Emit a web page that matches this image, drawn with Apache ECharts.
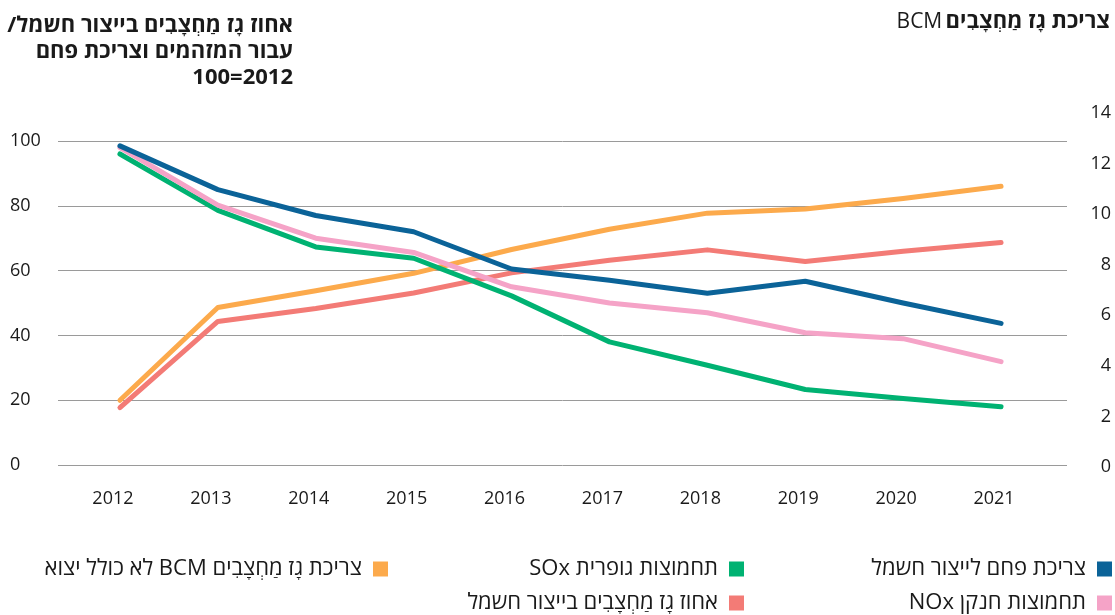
<!DOCTYPE html>
<html><head><meta charset="utf-8">
<script src="https://cdn.jsdelivr.net/npm/echarts@6/dist/echarts.min.js"></script>
<style>html,body{margin:0;padding:0;background:#fff}#c{width:1115px;height:615px}</style>
</head><body><div id="c" dir="rtl"></div>
<script>
const years = ['2012','2013','2014','2015','2016','2017','2018','2019','2020','2021'];
const coalForPower = [98.5, 85, 77, 72, 60.5, 57, 53, 56.7, 50, 43.7];
const noxEmissions = [98, 80.2, 70, 65.6, 55, 50, 47, 40.8, 39, 31.9];
const soxEmissions = [96, 78.6, 67.3, 63.8, 52.2, 38, 30.8, 23.3, 20.5, 18];
const gasSharePower = [17.7, 44.3, 48.3, 53.1, 59.3, 63.2, 66.4, 62.8, 66, 68.7];
const gasConsumptionBCM = [2.64, 6.31, 6.97, 7.66, 8.6, 9.4, 10.04, 10.2, 10.62, 11.1];

const names = {
  coal: 'צריכת פחם לייצור חשמל',
  nox: 'תחמוצות חנקן NOx',
  sox: 'תחמוצות גופרית SOx',
  share: 'אחוז גָז מַחְצָבִים בייצור חשמל',
  bcm: 'צריכת גָז מַחְצָבִים BCM לא כולל יצוא'
};
const colors = {coal:'#0b6398', nox:'#f5a3c7', sox:'#00b272', share:'#f37b76', bcm:'#fcaa4c'};
const FONT = '"Open Sans", "DejaVu Sans", "Liberation Sans", sans-serif';
const TXT = '#1a1a1a';

const chart = echarts.init(document.getElementById('c'), null, {renderer:'canvas'});

function line(key, data, idx) {
  return {
    name: names[key], type: 'line', data: data,
    xAxisIndex: idx, yAxisIndex: idx,
    symbol: 'none', smooth: false,
    lineStyle: {color: colors[key], width: 5, cap: 'round', join: 'round'},
    itemStyle: {color: colors[key]},
    emphasis: {disabled: true}
  };
}
const legendBase = {
  orient: 'vertical', align: 'right', icon: 'rect',
  itemWidth: 15, itemHeight: 15, itemGap: 12,
  top: 558, padding: 0, selectedMode: false,
  textStyle: {fontSize: 22, lineHeight: 22, color: TXT, fontFamily: FONT, padding: [0, 6, 0, 0]}
};

chart.setOption({
  animation: false,
  textStyle: {fontFamily: FONT},
  grid: [
    {left: 58, right: 48, top: 141, bottom: 150},
    {left: 71, right: 65, top: 141, bottom: 150},
    {left: 71, right: 65, top: 113, bottom: 148}
  ],
  xAxis: [
    {gridIndex: 0, type: 'category', data: years, show: false},
    {gridIndex: 1, type: 'category', data: years,
      axisLine: {show: false}, axisTick: {show: false},
      axisLabel: {fontSize: 18, color: TXT, margin: 25, fontFamily: FONT, padding: [0, 14, 0, 0]}},
    {gridIndex: 2, type: 'category', data: years, show: false}
  ],
  yAxis: [
    {gridIndex: 0, type: 'value', min: 0, max: 100, interval: 20,
      axisLine: {show: false}, axisTick: {show: false},
      axisLabel: {fontSize: 18, color: TXT, align: 'left', margin: 48, fontFamily: FONT},
      splitLine: {lineStyle: {color: '#9a9a9a', width: 1}}},
    {gridIndex: 1, type: 'value', min: 0, max: 100, show: false},
    {gridIndex: 2, type: 'value', min: 0, max: 14, interval: 2, position: 'right',
      axisLine: {show: false}, axisTick: {show: false}, splitLine: {show: false},
      axisLabel: {fontSize: 18, color: TXT, align: 'right', margin: 61, fontFamily: FONT}}
  ],
  legend: [
    Object.assign({}, legendBase, {right: 3, data: [names.coal, names.nox]}),
    Object.assign({}, legendBase, {right: 371, data: [names.sox, names.share]}),
    Object.assign({}, legendBase, {right: 727, data: [names.bcm]})
  ],
  graphic: [
    {type: 'text', x: 293, y: 13, silent: true,
      style: {text: 'אחוז גָז מַחְצָבִים בייצור חשמל/\nעבור המזהמים וצריכת פחם\n2012=100',
        align: 'right', textAlign: 'right', verticalAlign: 'top', textVerticalAlign: 'top',
        font: 'bold 22px ' + FONT, lineHeight: 26, fill: TXT}},
    {type: 'text', x: 1110, y: 11, silent: true,
      style: {text: '{r|BCM} {b|צריכת גָז מַחְצָבִים}',
        align: 'right', textAlign: 'right', verticalAlign: 'top', textVerticalAlign: 'top',
        fill: TXT,
        rich: {r: {fontSize: 21, fontFamily: FONT, fill: TXT, color: TXT},
               b: {fontSize: 22, fontWeight: 'bold', fontFamily: FONT, fill: TXT, color: TXT}}}}
  ],
  series: [
    line('bcm', gasConsumptionBCM, 2),
    line('share', gasSharePower, 1),
    line('sox', soxEmissions, 1),
    line('nox', noxEmissions, 1),
    line('coal', coalForPower, 1)
  ]
});
</script></body></html>
